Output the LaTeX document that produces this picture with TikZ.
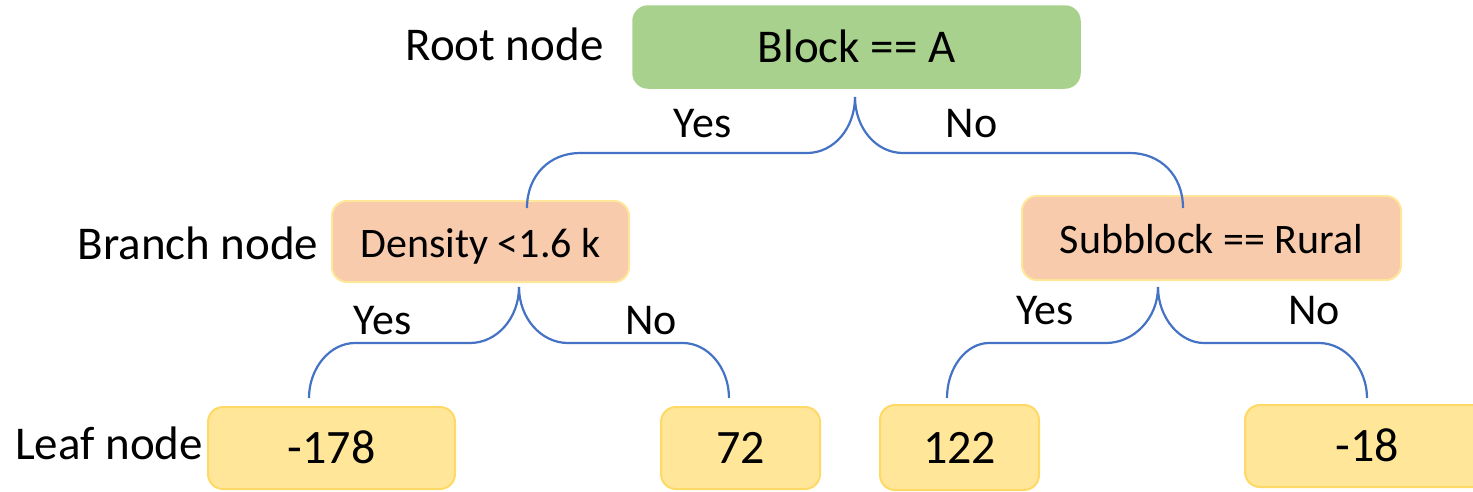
\documentclass[tikz,border=0pt]{standalone}
\usepackage{fontspec}
\usepackage{xcolor}
\setmainfont{Carlito}
\definecolor{rootgreen}{HTML}{A9D18E}
\definecolor{branchpeach}{HTML}{F8CBAD}
\definecolor{leafyellow}{HTML}{FFE699}
\definecolor{leafedge}{HTML}{FFD966}
\definecolor{splitblue}{HTML}{4472C4}

\begin{document}
\begin{tikzpicture}[x=1pt, y=-1pt,
  box/.style={rounded corners=15pt, inner sep=0pt, text height=31pt, text depth=0pt},
  rootbox/.style={box, fill=rootgreen, draw=rootgreen, line width=1.5pt, font=\fontsize{47}{56}\selectfont},
  branchbox/.style={box, fill=branchpeach, draw=leafyellow, line width=2pt, font=\fontsize{42}{50}\selectfont},
  leafbox/.style={box, fill=leafyellow, draw=leafedge, line width=2pt, font=\fontsize{48}{58}\selectfont},
  tag/.style={anchor=base, inner sep=0pt, font=\fontsize{47}{56}\selectfont},
  answer/.style={anchor=base, inner sep=0pt, font=\fontsize{44}{52}\selectfont},
  split/.style={draw=splitblue, line width=2.2pt}]
\useasboundingbox (0,0) rectangle (1473,491);

\node[rootbox, minimum width=447pt, minimum height=82pt] (root) at (856.5,47) {Block == A};
\node[branchbox, minimum width=297pt, minimum height=81pt] (dens) at (480.5,241.5) {Density <1.6 k};
\node[branchbox, minimum width=379pt, minimum height=84pt] (sub) at (1211.5,238) {Subblock == Rural};
\node[leafbox, minimum width=247pt, minimum height=82pt] (leafa) at (331.5,448) {-178};
\node[leafbox, minimum width=159pt, minimum height=82pt] (leafb) at (740.5,448) {72};
\node[leafbox, minimum width=159pt, minimum height=85pt] (leafc) at (959.5,447.5) {122};
\node[leafbox, minimum width=245pt, minimum height=82pt] (leafd) at (1367.5,446) {-18};

\node[tag] (roottag) at (504.5,60) {Root node};
\node[tag] (branchtag) at (198,259) {Branch node};
\node[tag] (leaftag) at (109,459) {Leaf node};

\node[answer] (yesroot) at (702.5,137) {Yes};
\node[answer] (noroot) at (971.5,137) {No};
\node[answer] (yesdens) at (382.5,334) {Yes};
\node[answer] (nodens) at (651,334) {No};
\node[answer] (yessub) at (1045,324) {Yes};
\node[answer] (nosub) at (1314,324) {No};

\coordinate (rootsplit) at (855,97);
\coordinate (densin) at (527,208);
\coordinate (subin) at (1183,208);
\coordinate (denssplit) at (519,287);
\coordinate (subsplit) at (1158,287);
\coordinate (leafain) at (309,398);
\coordinate (leafbin) at (729,398);
\coordinate (leafcin) at (947,398);
\coordinate (leafdin) at (1367,398);

\draw[split] (rootsplit) .. controls (855,128) and (834,153) .. (807,153) -- (580,153) .. controls (550,153) and (527,175) .. (densin);
\draw[split] (rootsplit) .. controls (855,128) and (876,153) .. (903,153) -- (1130,153) .. controls (1160,153) and (1183,175) .. (subin);
\draw[split] (denssplit) .. controls (519,318) and (497,343) .. (470,343) -- (355,343) .. controls (330,343) and (309,368) .. (leafain);
\draw[split] (denssplit) .. controls (519,318) and (541,343) .. (568,343) -- (683,343) .. controls (708,343) and (729,368) .. (leafbin);
\draw[split] (subsplit) .. controls (1158,318) and (1134,343) .. (1106,343) -- (989,343) .. controls (966,343) and (947,368) .. (leafcin);
\draw[split] (subsplit) .. controls (1158,318) and (1180,343) .. (1204,343) -- (1319,343) .. controls (1345,343) and (1367,368) .. (leafdin);
\end{tikzpicture}
\end{document}
